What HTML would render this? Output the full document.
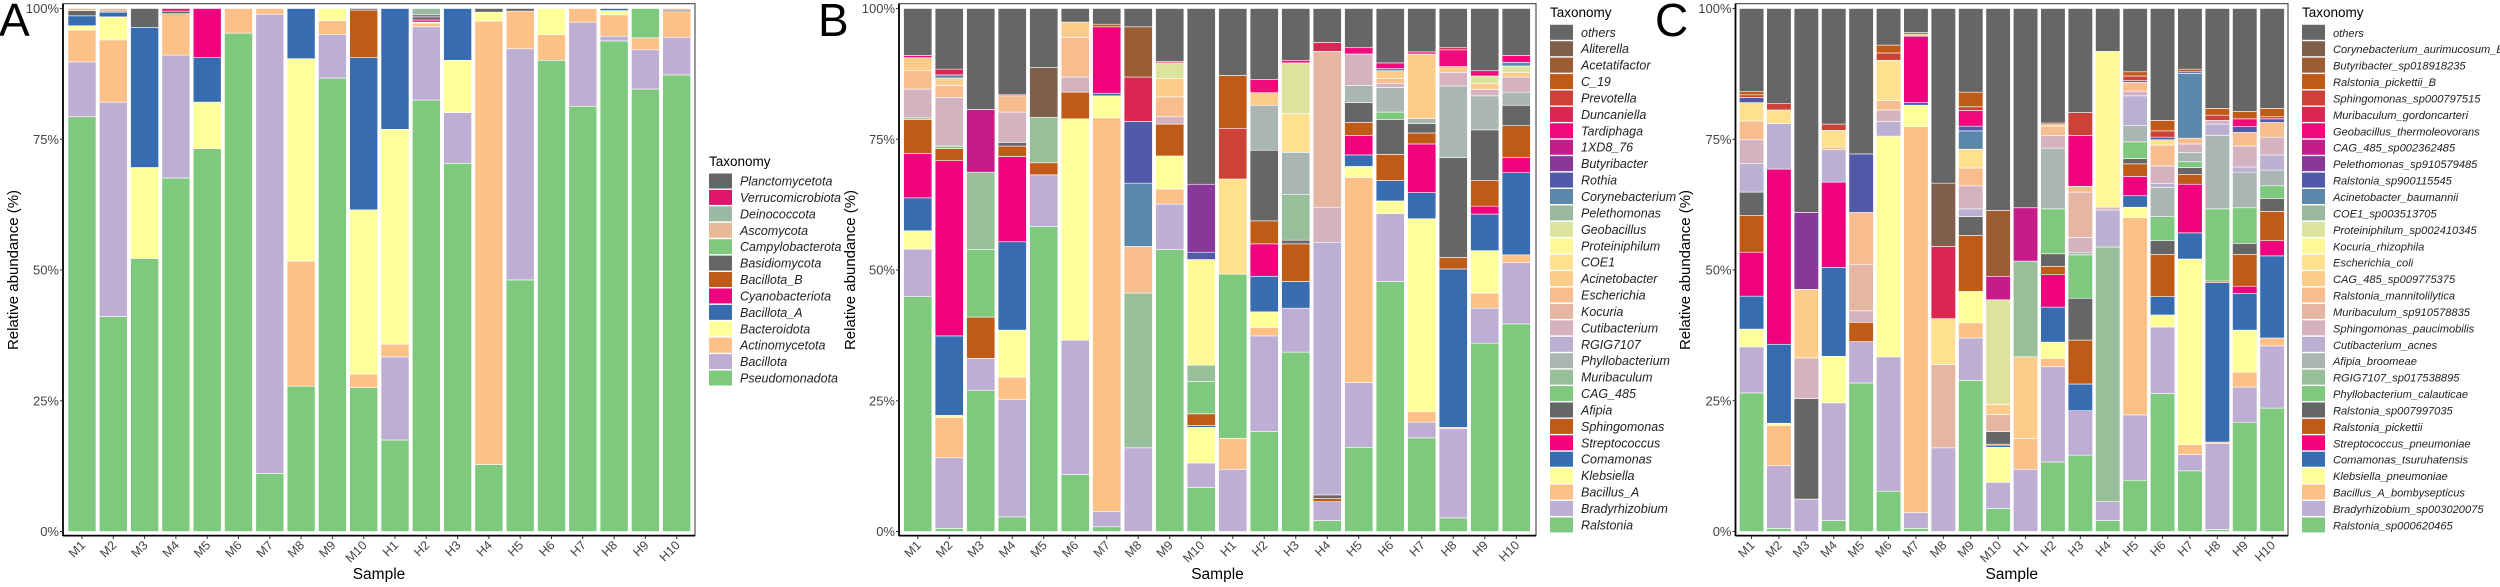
<!DOCTYPE html>
<html><head><meta charset="utf-8"><style>
html,body{margin:0;padding:0;background:#fff;}
svg text{font-family:"Liberation Sans",sans-serif;}
</style></head><body>
<svg id="fig" width="2500" height="582" viewBox="0 0 2500 582" xmlns="http://www.w3.org/2000/svg"></svg>
<script>
const samples=["M1","M2","M3","M4","M5","M6","M7","M8","M9","M10","H1","H2","H3","H4","H5","H6","H7","H8","H9","H10"];
const colors=["#7fc97f","#beaed4","#fdc086","#ffff99","#386cb0","#f0027f","#bf5b17","#666666","#7fc97f","#96bf9a","#a9b6b3","#bcb0d2","#d4b2bf","#e5b7a3","#f7bd8e","#fdcc8a","#fee08f","#fef897","#dce39c","#9ab8a0","#5b87aa","#5159a8","#883899","#c81b8a","#ef0b7c","#d92653","#cc4236","#bf5a17","#9d5d34","#7f5f4b","#666666"];
const aColors=["#7fc97f","#beaed4","#fdc086","#ffff99","#386cb0","#f0027f","#bf5b17","#666666","#7fc97f","#e9b898","#9bb8a2","#e0166d","#666666"];
const aTaxa=["Pseudomonadota","Bacillota","Actinomycetota","Bacteroidota","Bacillota_A","Cyanobacteriota","Bacillota_B","Basidiomycota","Campylobacterota","Ascomycota","Deinococcota","Verrucomicrobiota","Planctomycetota"];
const bTaxa=["Ralstonia","Bradyrhizobium","Bacillus_A","Klebsiella","Comamonas","Streptococcus","Sphingomonas","Afipia","CAG_485","Muribaculum","Phyllobacterium","RGIG7107","Cutibacterium","Kocuria","Escherichia","Acinetobacter","COE1","Proteiniphilum","Geobacillus","Pelethomonas","Corynebacterium","Rothia","Butyribacter","1XD8_76","Tardiphaga","Duncaniella","Prevotella","C_19","Acetatifactor","Aliterella","others"];
const cTaxa=["Ralstonia_sp000620465","Bradyrhizobium_sp003020075","Bacillus_A_bombysepticus","Klebsiella_pneumoniae","Comamonas_tsuruhatensis","Streptococcus_pneumoniae","Ralstonia_pickettii","Ralstonia_sp007997035","Phyllobacterium_calauticae","RGIG7107_sp017538895","Afipia_broomeae","Cutibacterium_acnes","Sphingomonas_paucimobilis","Muribaculum_sp910578835","Ralstonia_mannitolilytica","CAG_485_sp009775375","Escherichia_coli","Kocuria_rhizophila","Proteiniphilum_sp002410345","COE1_sp003513705","Acinetobacter_baumannii","Ralstonia_sp900115545","Pelethomonas_sp910579485","CAG_485_sp002362485","Geobacillus_thermoleovorans","Muribaculum_gordoncarteri","Sphingomonas_sp000797515","Ralstonia_pickettii_B","Butyribacter_sp018918235","Corynebacterium_aurimucosum_E","others"];
// cumulative upper bound (%) per segment: [taxonIndex, cumulativeTop]; last segment fills to 100
const aStacks=[
[[0,79.3],[1,89.8],[2,95.9],[3,96.7],[4,98.6],[12,99.6],[9,100]],
[[0,41.1],[1,82.1],[2,94.0],[3,98.4],[4,99.3],[12,99.5],[9,100]],
[[0,52.2],[3,69.6],[4,96.4],[12,100]],
[[0,67.6],[1,91.1],[2,99.0],[12,99.5],[11,100]],
[[0,73.2],[3,82.1],[4,90.6],[5,100]],
[[0,95.3],[2,100]],
[[0,11.1],[1,98.9],[2,100]],
[[0,27.8],[2,51.7],[3,90.4],[4,100]],
[[0,86.7],[1,95.0],[2,97.7],[3,100]],
[[0,27.5],[2,30.1],[3,61.5],[4,90.6],[6,99.7],[12,100]],
[[0,17.5],[1,33.4],[2,35.8],[3,76.9],[4,100]],
[[0,82.5],[1,96.5],[2,97.2],[3,97.4],[5,97.8],[7,98.4],[12,98.8],[10,100]],
[[0,70.4],[1,80.1],[3,90.1],[4,100]],
[[0,12.8],[2,97.6],[3,99.3],[12,100]],
[[0,48.1],[1,92.3],[2,99.5],[12,100]],
[[0,90.1],[2,95.0],[3,100]],
[[0,81.3],[1,97.4],[2,100]],
[[0,93.8],[1,94.7],[2,98.8],[3,99.6],[4,100]],
[[0,84.6],[1,92.1],[2,94.4],[8,100]],
[[0,87.3],[1,94.5],[2,99.4],[12,99.7],[9,100]]
];
const bStacks=[
[[0,44.9],[1,54.0],[3,57.5],[4,63.8],[5,72.3],[6,78.8],[8,79.1],[12,84.6],[14,88.1],[15,90.6],[24,91.0],[30,100]],
[[0,0.6],[1,14.1],[2,21.8],[3,22.2],[4,37.4],[5,70.9],[6,73.2],[8,73.7],[12,83.0],[14,85.3],[15,86.7],[20,87.3],[25,88.4],[30,100]],
[[0,27.0],[1,33.1],[6,41.0],[8,53.9],[9,68.7],[23,80.7],[30,100]],
[[0,2.8],[1,25.2],[2,29.5],[3,38.5],[4,55.4],[5,71.7],[6,73.7],[7,74.4],[12,80.2],[14,83.3],[24,83.5],[30,100]],
[[0,58.3],[1,68.2],[6,70.5],[9,79.2],[29,88.7],[30,100]],
[[0,10.9],[1,36.6],[3,78.9],[6,84.0],[12,86.9],[14,94.5],[15,97.4],[30,100]],
[[0,0.9],[1,3.8],[2,79.1],[3,83.3],[4,83.8],[5,96.5],[6,97.0],[30,100]],
[[1,16.0],[9,45.6],[14,54.5],[20,66.6],[21,78.4],[25,86.9],[28,96.5],[30,100]],
[[0,53.9],[1,62.6],[2,65.5],[3,71.8],[6,77.9],[12,79.3],[14,83.1],[15,86.6],[18,89.6],[25,89.9],[30,100]],
[[0,8.4],[1,13.1],[3,19.9],[4,20.3],[6,22.5],[8,28.7],[9,31.8],[17,52.0],[21,53.4],[22,66.4],[30,100]],
[[1,11.9],[2,17.8],[8,49.2],[16,67.4],[26,77.1],[27,87.2],[30,100]],
[[0,19.1],[1,37.4],[2,39.0],[3,42.0],[4,48.8],[5,55.0],[6,59.4],[7,72.9],[10,81.5],[15,83.9],[24,86.4],[30,100]],
[[0,34.3],[1,42.7],[4,47.8],[6,55.0],[7,55.7],[9,64.4],[10,72.5],[16,79.9],[18,89.6],[24,90.1],[30,100]],
[[0,2.1],[1,5.7],[6,6.3],[7,7.0],[11,55.3],[12,62.0],[13,91.8],[25,93.5],[30,100]],
[[0,16.1],[1,28.5],[2,67.7],[3,69.8],[4,72.0],[5,75.7],[6,78.2],[7,82.0],[10,85.3],[12,91.3],[24,92.5],[30,100]],
[[0,47.8],[1,60.8],[3,63.2],[4,67.1],[6,72.1],[7,78.8],[8,80.2],[10,84.9],[12,85.7],[14,86.6],[15,88.1],[20,88.5],[24,89.6],[30,100]],
[[0,17.9],[1,20.9],[2,22.9],[3,59.8],[4,64.8],[5,74.1],[6,76.2],[7,78.0],[10,79.0],[15,91.3],[24,91.7],[30,100]],
[[0,2.6],[1,19.7],[2,19.9],[4,50.2],[6,52.4],[7,71.5],[10,85.2],[12,87.8],[15,88.9],[24,92.1],[25,92.5],[30,100]],
[[0,36.0],[1,42.7],[2,45.6],[3,53.7],[4,60.7],[5,62.2],[6,67.1],[7,76.8],[10,83.3],[12,84.5],[15,85.7],[18,87.1],[24,88.1],[30,100]],
[[0,39.7],[1,51.4],[2,52.9],[4,68.6],[5,71.5],[6,77.6],[7,81.5],[10,84.0],[12,86.9],[15,87.8],[18,89.0],[20,89.7],[24,91.0],[30,100]]
];
const cStacks=[
[[0,26.5],[1,35.3],[3,38.7],[4,45.0],[5,53.4],[6,60.4],[7,64.9],[11,70.4],[12,74.9],[14,78.5],[16,82.0],[21,83.0],[26,83.5],[27,84.1],[30,100]],
[[0,0.6],[1,12.6],[2,20.3],[3,20.7],[4,35.8],[5,69.3],[11,78.0],[16,80.6],[26,81.8],[30,100]],
[[1,6.2],[7,25.4],[12,33.2],[15,46.3],[22,61.0],[30,100]],
[[0,2.1],[1,24.6],[3,33.5],[4,50.5],[5,66.8],[11,73.0],[14,73.5],[16,76.7],[26,77.9],[30,100]],
[[0,28.4],[1,36.3],[6,40.0],[12,42.2],[13,51.1],[14,61.0],[21,72.2],[30,100]],
[[0,7.7],[1,33.4],[3,75.6],[11,78.4],[12,80.6],[14,82.4],[16,90.1],[26,91.5],[27,93.0],[30,100]],
[[0,0.6],[1,3.6],[2,77.4],[3,81.5],[4,82.0],[5,94.7],[14,95.1],[26,95.4],[30,100]],
[[1,16.0],[13,31.9],[16,40.7],[25,54.5],[29,66.6],[30,100]],
[[0,28.9],[1,37.0],[2,39.9],[3,45.9],[6,56.6],[7,60.2],[11,61.7],[12,66.1],[14,69.5],[16,73.1],[20,76.6],[21,77.5],[24,80.5],[26,81.2],[27,84.0],[30,100]],
[[0,4.4],[1,9.4],[3,16.1],[4,16.5],[6,16.7],[7,19.1],[13,22.4],[15,24.3],[18,44.3],[23,48.8],[28,61.4],[30,100]],
[[1,11.9],[2,17.8],[15,33.4],[9,51.7],[23,61.9],[30,100]],
[[0,13.3],[1,31.5],[2,33.1],[3,36.2],[4,42.9],[5,49.1],[6,50.7],[7,53.1],[8,61.7],[10,73.3],[12,75.7],[14,77.5],[16,77.8],[26,78.1],[30,100]],
[[0,14.6],[1,23.1],[4,28.2],[6,36.6],[7,44.6],[8,52.9],[10,53.4],[12,56.2],[13,64.9],[14,66.0],[5,75.7],[26,80.1],[30,100]],
[[0,2.1],[1,5.7],[9,54.4],[11,61.5],[12,62.0],[17,91.8],[30,100]],
[[0,9.8],[1,22.3],[2,60.0],[3,62.0],[4,64.2],[5,67.9],[6,70.3],[7,71.3],[8,74.5],[10,77.6],[11,83.3],[12,84.2],[14,85.9],[21,86.2],[26,87.1],[27,87.9],[30,100]],
[[0,26.4],[1,39.1],[3,41.4],[4,44.9],[6,53.0],[7,55.6],[8,60.2],[10,65.8],[11,66.5],[12,69.9],[14,73.9],[16,74.9],[21,75.4],[26,76.6],[27,78.6],[30,100]],
[[0,11.6],[1,14.7],[2,16.6],[3,52.1],[4,57.1],[5,66.4],[6,68.3],[7,69.6],[8,70.7],[10,72.5],[12,74.1],[14,75.2],[20,87.6],[21,87.9],[27,88.4],[30,100]],
[[0,0.4],[1,16.8],[2,17.1],[4,47.6],[6,47.9],[8,61.7],[10,75.7],[11,77.9],[12,78.6],[26,79.6],[27,80.9],[30,100]],
[[0,20.9],[1,27.6],[2,30.5],[3,38.5],[4,45.5],[5,46.9],[6,53.0],[7,55.1],[8,61.9],[10,68.7],[11,69.7],[12,73.7],[14,76.3],[21,77.4],[24,78.9],[27,80.3],[30,100]],
[[0,23.6],[1,35.5],[2,37.0],[4,52.7],[5,55.6],[6,61.2],[7,63.7],[8,66.1],[10,69.1],[11,72.0],[12,75.4],[14,78.2],[21,78.9],[26,79.3],[27,80.9],[30,100]]
];
const yTicks=[0,25,50,75,100];

const NS="http://www.w3.org/2000/svg";
const svg=document.getElementById('fig');
function mk(tag,attrs,parent){const e=document.createElementNS(NS,tag);for(const k in attrs)e.setAttribute(k,attrs[k]);(parent||svg).appendChild(e);return e;}
const Y0=531.5,Y100=8.5;
function yScale(p){return Y0-(Y0-Y100)*p/100;}

function panel(cfg){
  const g=mk('g',{});
  
  
  function xScale(i){return cfg.bar0+i*cfg.step;}
  cfg.stacks.forEach((st,i)=>{
    let prev=0;
    st.forEach(([t,top])=>{
      const r=mk('rect',{x:xScale(i),y:yScale(top),width:cfg.bw,height:Math.max(0,yScale(prev)-yScale(top)),fill:cfg.colors[t],stroke:'#ffffff','stroke-width':0.6},g);
      
      
      prev=top;
    });
  });
  const fr=mk('rect',{x:cfg.axis,y:3.7,width:cfg.right-cfg.axis,height:535.6-3.7,fill:'none',stroke:'#333','stroke-width':1},g);
  
  
  const ya=mk('line',{x1:cfg.axis,y1:3.7,x2:cfg.axis,y2:536,stroke:'#000','stroke-width':1.8},g);
  
  
  const xa=mk('line',{x1:cfg.axis,y1:535.6,x2:cfg.right,y2:535.6,stroke:'#000','stroke-width':1.8},g);
  
  
  yTicks.forEach(v=>{
    const tk=mk('line',{x1:cfg.axis-3,x2:cfg.axis,y1:yScale(v),y2:yScale(v),stroke:'#333','stroke-width':1},g);
    
    
    const t=mk('text',{x:cfg.axis-4,y:yScale(v)+4.5,'text-anchor':'end','font-size':13,fill:'#444'},g);
    t.textContent=v+'%';
    
    
  });
  samples.forEach((s,i)=>{
    const cx=xScale(i)+cfg.bw/2;
    const tk=mk('line',{x1:cx,x2:cx,y1:535.6,y2:539,stroke:'#333','stroke-width':1},g);
    
    
    const t=mk('text',{x:cx+4,y:546,'text-anchor':'end','font-size':12.5,fill:'#444',transform:'rotate(-45 '+(cx+4)+' 546)'},g);
    t.textContent=s;
    
    
  });
  const xt=mk('text',{x:(cfg.axis+cfg.right)/2,y:579,'text-anchor':'middle','font-size':15.5,fill:'#000'},g);
  xt.textContent='Sample';
  
  
  const yt=mk('text',{x:cfg.ytitle,y:270,'text-anchor':'middle','font-size':15,fill:'#000',transform:'rotate(-90 '+cfg.ytitle+' 270)'},g);
  yt.textContent='Relative abundance (%)';
  
  
  const lt=mk('text',{x:cfg.legX,y:cfg.legTitleY,'font-size':13.5,fill:'#000'},g);
  lt.textContent='Taxonomy';
  
  
  const n=cfg.taxa.length;
  for(let k=0;k<n;k++){
    const t=n-1-k;
    const cy=cfg.legY0+k*16.42;
    const key=mk('rect',{x:cfg.legX,y:cy-7.5,width:23,height:15,fill:cfg.colors[t]},g);
    
    
    const tx=mk('text',{x:cfg.legX+31,y:cy+4.5,'font-size':cfg.legFont,'font-style':'italic',fill:'#222'},g);
    tx.textContent=cfg.taxa[t];
    
    
  }
  const L=mk('text',{x:cfg.letterX,y:36,'font-size':46,fill:'#000'},g);
  L.textContent=cfg.letter;
  
  
}
panel({name:'phylum',letter:'A',letterX:-1,stacks:aStacks,taxa:aTaxa,colors:aColors,axis:63,bar0:68,step:31.3,bw:28,right:695,ytitle:18,legX:709,legTitleY:166,legY0:181,legFont:12.5});
panel({name:'genus',letter:'B',letterX:818,stacks:bStacks,taxa:bTaxa,colors:colors,axis:899,bar0:903.6,step:31.5,bw:28.3,right:1536,ytitle:855,legX:1550,legTitleY:17,legY0:32.3,legFont:12.5});
panel({name:'species',letter:'C',letterX:1655,stacks:cStacks,taxa:cTaxa,colors:colors,axis:1735.5,bar0:1739.3,step:27.4,bw:24.5,right:2288,ytitle:1690,legX:2302,legTitleY:17,legY0:32.3,legFont:11.1});
</script>
</body></html>
